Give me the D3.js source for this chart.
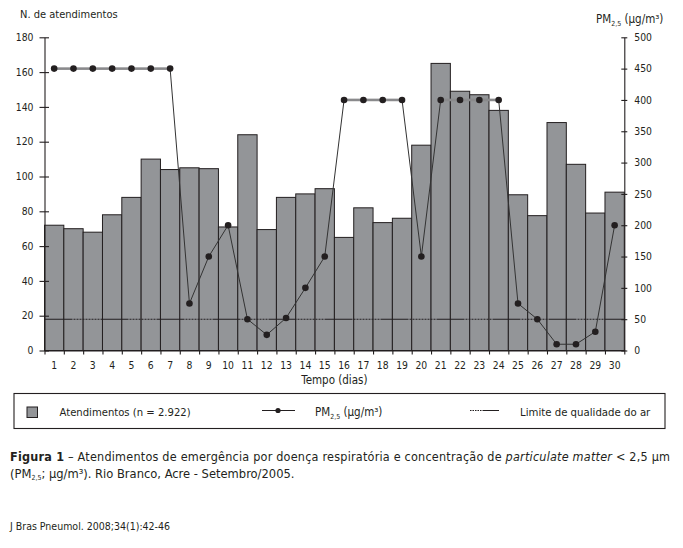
<!DOCTYPE html>
<html><head><meta charset="utf-8">
<script src="https://cdn.jsdelivr.net/npm/d3@7"></script>
<style>
body{margin:0;background:#fff}
text{font-family:"DejaVu Sans Condensed","Open Sans",sans-serif;fill:#231f20}
</style></head>
<body><svg id="c" width="683" height="548"></svg>
<script>
const days = [1,2,3,4,5,6,7,8,9,10,11,12,13,14,15,16,17,18,19,20,21,22,23,24,25,26,27,28,29,30];
const atendimentos = [72,70,68,78,88,110,104,105,104.5,71,124,69.5,88,90,93,65,82,73.5,76,118,165,149,147,138,89.5,77.5,131,107,79,91];
const pm25 = [450,450,450,450,450,450,450,75,150,200,50,25,52,100,150,400,400,400,400,150,400,400,400,400,75,50,10,10,30,200];
const leftTicks = [0,20,40,60,80,100,120,140,160,180];
const rightTicks = [0,50,100,150,200,250,300,350,400,450,500];
const limite = 50;

const INK = "#231f20", BAR = "#939598";
const L = 44.5, R = 624.3, T = 37.3, B = 350.5;
const svg = d3.select("#c");

const x = d3.scaleBand().domain(days).range([L, R]).padding(0);
const xb = d3.scaleLinear().domain([0, days.length]).range([L, R]);
const yL = d3.scaleLinear().domain([0, 180]).range([B, T]);
const yR = d3.scaleLinear().domain([0, 500]).range([B, T]);

// bars
svg.append("g").selectAll("rect").data(days).join("rect")
  .attr("x", d => x(d)).attr("width", x.bandwidth())
  .attr("y", (d,i) => yL(atendimentos[i]))
  .attr("height", (d,i) => B - yL(atendimentos[i]))
  .attr("fill", BAR).attr("stroke", INK).attr("stroke-width", 1);

// limit line
const dash = [28,1,2,1,2,1,2,1,2,1,2,1,2,1,2,1,2,1,2,1];
svg.append("line").attr("x1", L).attr("x2", R)
  .attr("y1", yR(limite)).attr("y2", yR(limite))
  .attr("stroke", INK).attr("stroke-width", 1.1)
  .attr("stroke-dasharray", dash.join(","));

// PM line: segments
const pts = days.map((d,i) => [x(d) + x.bandwidth()/2, yR(pm25[i]), pm25[i]]);
const segs = d3.pairs(pts);
const flatHigh = d => d[0][2] === d[1][2] && d[0][2] >= 300;
svg.append("g").selectAll("line").data(segs).join("line")
  .attr("x1", d => d[0][0]).attr("y1", d => d[0][1])
  .attr("x2", d => d[1][0]).attr("y2", d => d[1][1])
  .attr("stroke", d => flatHigh(d) ? "#8a8a8c" : "#333")
  .attr("stroke-width", d => flatHigh(d) ? 2.6 : 1);
svg.append("g").selectAll("circle").data(pts).join("circle")
  .attr("cx", d => d[0]).attr("cy", d => d[1]).attr("r", 3.3).attr("fill", INK);

// axes
function styleAxis(g){
  g.selectAll("path.domain").attr("stroke", INK).attr("stroke-width", 1.1);
  g.selectAll(".tick line").attr("stroke", INK).attr("stroke-width", 1.1);
  g.selectAll("text").attr("font-size", 10.3).attr("fill", INK)
   .style("font-family", '"DejaVu Sans Condensed",sans-serif');
}
const gl = svg.append("g").attr("transform", `translate(${L},0)`)
  .call(d3.axisLeft(yL).tickValues(leftTicks).tickSize(5).tickSizeOuter(0).tickPadding(6));
gl.selectAll(".tick line").attr("x1", 4.5);
styleAxis(gl);
const gr = svg.append("g").attr("transform", `translate(${R},0)`)
  .call(d3.axisRight(yR).tickValues(rightTicks).tickSize(3).tickSizeOuter(0).tickPadding(7));
gr.selectAll(".tick line").attr("x1", -3);
styleAxis(gr);
gr.selectAll("text").attr("text-anchor", "start");

const gb = svg.append("g").attr("transform", `translate(0,${B})`)
  .call(d3.axisBottom(xb).tickValues(d3.range(0, days.length + 1)).tickSize(4).tickSizeOuter(0).tickFormat(""));
styleAxis(gb);
const gbl = svg.append("g").attr("transform", `translate(0,${B})`)
  .call(d3.axisBottom(x).tickSize(0).tickPadding(11.5));
gbl.select("path.domain").remove();
styleAxis(gbl);

// axis titles
svg.append("text").attr("x", 20).attr("y", 18.3).attr("font-size", 11).text("N. de atendimentos");
const rt = svg.append("text").attr("x", 596).attr("y", 23.3).attr("font-size", 11.5);
rt.append("tspan").text("PM");
rt.append("tspan").attr("font-size", 7).attr("dy", 2.5).text("2,5");
rt.append("tspan").attr("dy", -2.5).text(" (µg/m³)");
svg.append("text").attr("x", (L + R) / 2).attr("y", 384).attr("text-anchor", "middle")
  .attr("font-size", 11.5).text("Tempo (dias)");

// legend
svg.append("rect").attr("x", 14).attr("y", 393.5).attr("width", 651).attr("height", 35)
  .attr("fill", "none").attr("stroke", INK).attr("stroke-width", 1.1);
svg.append("rect").attr("x", 27).attr("y", 407).attr("width", 10.5).attr("height", 10.5)
  .attr("fill", BAR).attr("stroke", INK).attr("stroke-width", 1);
svg.append("text").attr("x", 59.5).attr("y", 416).attr("font-size", 11.2).text("Atendimentos (n = 2.922)");
svg.append("line").attr("x1", 262).attr("x2", 295).attr("y1", 410.5).attr("y2", 410.5)
  .attr("stroke", INK).attr("stroke-width", 1);
svg.append("circle").attr("cx", 278).attr("cy", 410.5).attr("r", 2.6).attr("fill", INK);
const lt = svg.append("text").attr("x", 315).attr("y", 416).attr("font-size", 11.5);
lt.append("tspan").text("PM");
lt.append("tspan").attr("font-size", 7).attr("dy", 2.5).text("2,5");
lt.append("tspan").attr("dy", -2.5).text(" (µg/m³)");
svg.append("line").attr("x1", 470).attr("x2", 483).attr("y1", 410.5).attr("y2", 410.5)
  .attr("stroke", INK).attr("stroke-width", 1).attr("stroke-dasharray", "1.5,1");
svg.append("line").attr("x1", 483).attr("x2", 499).attr("y1", 410.5).attr("y2", 410.5)
  .attr("stroke", INK).attr("stroke-width", 1);
svg.append("text").attr("x", 520).attr("y", 416).attr("font-size", 11.3).text("Limite de qualidade do ar");

// caption
const c1 = svg.append("text").attr("x", 10).attr("y", 460.7).attr("font-size", 12.5)
  .attr("textLength", 660).attr("lengthAdjust", "spacing");
c1.append("tspan").attr("font-weight", "bold").text("Figura 1");
c1.append("tspan").text(" – Atendimentos de emergência por doença respiratória e concentração de ");
c1.append("tspan").attr("font-style", "italic").text("particulate matter");
c1.append("tspan").text(" < 2,5 μm");
const c2 = svg.append("text").attr("x", 10).attr("y", 477.5).attr("font-size", 12.8);
c2.append("tspan").text("(PM");
c2.append("tspan").attr("font-size", 7).attr("dy", 2.5).text("2,5");
c2.append("tspan").attr("dy", -2.5).text("; µg/m³). Rio Branco, Acre - Setembro/2005.");
svg.append("text").attr("x", 10).attr("y", 530).attr("font-size", 10.5).text("J Bras Pneumol. 2008;34(1):42-46");
</script></body></html>
